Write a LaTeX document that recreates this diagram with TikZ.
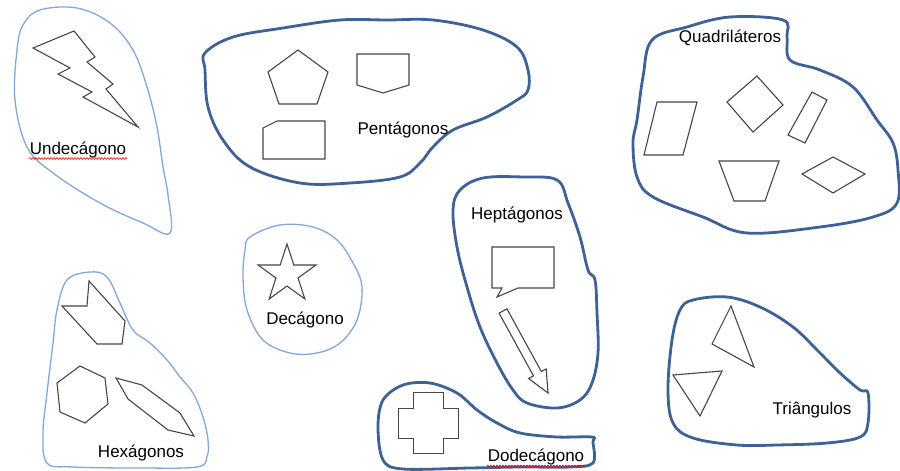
\documentclass[tikz,border=0pt]{standalone}
\usepackage{fontspec}
\setmainfont{Liberation Sans}
\usetikzlibrary{decorations.pathmorphing}
\definecolor{darkblob}{RGB}{62,97,150}
\definecolor{lightblob}{RGB}{130,168,216}
\definecolor{shapegray}{RGB}{70,70,70}
\tikzset{
  darkb/.style={draw=darkblob,line width=2.8pt,line join=round},
  lightb/.style={draw=lightblob,line width=1.3pt,line join=round},
  poly/.style={draw=shapegray,line width=1.1pt,line join=miter},
  lbl/.style={font=\fontsize{17}{20}\selectfont,text=black,inner sep=0pt},
  spell/.style={draw=red,line width=0.6pt,decorate,decoration={snake,amplitude=0.9pt,segment length=3pt}}
}
\begin{document}
\begin{tikzpicture}[x=1pt,y=-1pt]
\useasboundingbox (0,0) rectangle (900,471);
\fill[white] (0,0) rectangle (900,471);

% ---- Undecagono blob (light)
\draw[lightb] plot[smooth cycle,tension=0.6] coordinates {
 (40,10) (77,8) (110,23) (133,50) (147,87) (157,127) (163,167) (168,195) (170,233)
 (143,223) (100,203) (53,173) (27,147) (15,100) (17,50) (23,25)};
\draw[poly] (33,48) -- (74,31) -- (95,57) -- (87,62) -- (113,84) -- (106,89) -- (138,127)
 -- (83,97) -- (92,92) -- (58,74) -- (70,68) -- cycle;
\node[lbl] (undec) at (78,150) {Undecágono};
\draw[spell] (29,158.5) -- (127,158.5);

% ---- Pentagonos blob (dark)
\draw[darkb] plot[smooth cycle,tension=0.6] coordinates {
 (205,53) (233,37) (283,28) (340,20) (387,20) (433,20) (483,30) (517,47) (528,70) (528,90)
 (517,100) (487,117) (453,130) (433,147) (420,163) (400,177) (350,183) (300,183) (250,167)
 (223,140) (208,107) (205,70)};
\draw[poly] (298,50) -- (328,72) -- (317,104) -- (279,104) -- (268,72) -- cycle;
\draw[poly] (357,54) -- (409,54) -- (409,85) -- (383,93) -- (357,85) -- cycle;
\draw[poly] (263,128) -- (277,121) -- (325,121) -- (325,159) -- (263,159) -- cycle;
\node[lbl] (pent) at (403,130) {Pentágonos};

% ---- Quadrilateros blob (dark)
\draw[darkb] plot[smooth cycle,tension=0.6] coordinates {
 (652,40) (687,27) (730,17) (783,20) (787,37) (790,60) (820,70) (853,87) (877,120) (893,143)
 (898,170) (897,203) (873,217) (820,227) (747,233) (703,217) (653,197) (637,177) (633,143)
 (637,120) (643,77)};
\draw[poly] (657,102) -- (697,102) -- (683,155) -- (644,155) -- cycle;
\draw[poly] (757,76) -- (783,105) -- (753,132) -- (727,102) -- cycle;
\draw[poly] (812,92) -- (827,100) -- (805,143) -- (788,135) -- cycle;
\draw[poly] (719,161) -- (779,161) -- (765,201) -- (734,201) -- cycle;
\draw[poly] (833,157) -- (865,174) -- (833,193) -- (802,174) -- cycle;
\node[lbl] (quad) at (730,38) {Quadriláteros};

% ---- Decagono blob (light)
\draw[lightb] plot[smooth cycle,tension=0.6] coordinates {
 (250,237) (280,225) (313,227) (337,240) (353,263) (362,287) (357,320) (340,343) (317,353)
 (290,353) (263,340) (247,310) (243,277) (245,250)};
\begin{scope}[shift={(287,274.4)}]
\draw[poly] (0,-30.4)
 -- ({11.6*sin(36)},{-11.6*cos(36)}) -- ({30.4*sin(72)},{-30.4*cos(72)})
 -- ({11.6*sin(108)},{-11.6*cos(108)}) -- ({30.4*sin(144)},{-30.4*cos(144)})
 -- ({11.6*sin(180)},{-11.6*cos(180)}) -- ({30.4*sin(216)},{-30.4*cos(216)})
 -- ({11.6*sin(252)},{-11.6*cos(252)}) -- ({30.4*sin(288)},{-30.4*cos(288)})
 -- ({11.6*sin(324)},{-11.6*cos(324)}) -- cycle;
\end{scope}
\node[lbl] (dec) at (305,320) {Decágono};

% ---- Hexagonos blob (light)
\draw[lightb] plot[smooth cycle,tension=0.6] coordinates {
 (67,280) (90,272) (107,277) (120,303) (133,330) (150,343) (167,360) (180,377) (193,393)
 (203,417) (208,440) (207,457) (197,467) (140,468) (73,467) (47,463) (43,433) (47,393)
 (53,343) (57,310)};
\draw[poly] (89,281) -- (125,321) -- (122,344) -- (97,344) -- (62,306) -- (87,306) -- cycle;
\draw[poly] (80,366) -- (105,378) -- (108,404) -- (85,423) -- (60,412) -- (57,383) -- cycle;
\draw[poly] (116,378) -- (142,385) -- (180,413) -- (194,436) -- (168,430) -- (128,399) -- cycle;
\node[lbl] (hexa) at (141,453) {Hexágonos};

% ---- Heptagonos blob (dark)
\draw[darkb] plot[smooth cycle,tension=0.6] coordinates {
 (460,190) (483,178) (523,177) (557,180) (568,203) (580,237) (588,270) (595,280) (597,313)
 (598,353) (592,383) (580,400) (557,408) (527,403) (513,390) (497,363) (480,327) (467,287)
 (457,247) (453,210)};
\draw[poly] (492,247) -- (554,247) -- (554,288) -- (518,288) -- (497,297) -- (502,288) -- (492,288) -- cycle;
\draw[poly] (506.9,308.8) -- (541.3,371.5) -- (546.2,368.9) -- (548,393) -- (528.6,378.5)
 -- (533.5,375.9) -- (499.1,313.2) -- cycle;
\node[lbl] (hept) at (517,215) {Heptágonos};

% ---- Dodecagono blob (dark)
\draw[darkb] plot[smooth cycle,tension=0.55] coordinates {
 (383,400) (403,385) (430,383) (457,393) (477,410) (497,423) (520,433) (557,437) (592,437)
 (593,442) (593,463) (570,467) (520,467) (470,468) (403,469) (383,460) (378,427)};
\draw[poly] (413.3,392.7) -- (443.3,392.7) -- (443.3,408.3) -- (458.3,408.3) -- (458.3,438.3)
 -- (443.3,438.3) -- (443.3,453.3) -- (413.3,453.3) -- (413.3,438.3) -- (398.3,438.3)
 -- (398.3,408.3) -- (413.3,408.3) -- cycle;
\node[lbl] (dodec) at (536,457) {Dodecágono};
\draw[spell] (487,466) -- (585,466);

% ---- Triangulos blob (dark)
\draw[darkb] plot[smooth cycle,tension=0.6] coordinates {
 (693,300) (727,297) (760,307) (793,327) (820,353) (840,373) (860,390) (868,393) (868,423)
 (860,437) (827,443) (777,445) (737,445) (693,438) (673,423) (668,390) (672,340) (680,310)};
\draw[poly] (731,306) -- (754,367) -- (712,344) -- cycle;
\draw[poly] (673,375) -- (722,371) -- (700,416) -- cycle;
\node[lbl] (tri) at (812,410) {Triângulos};
\end{tikzpicture}
\end{document}
